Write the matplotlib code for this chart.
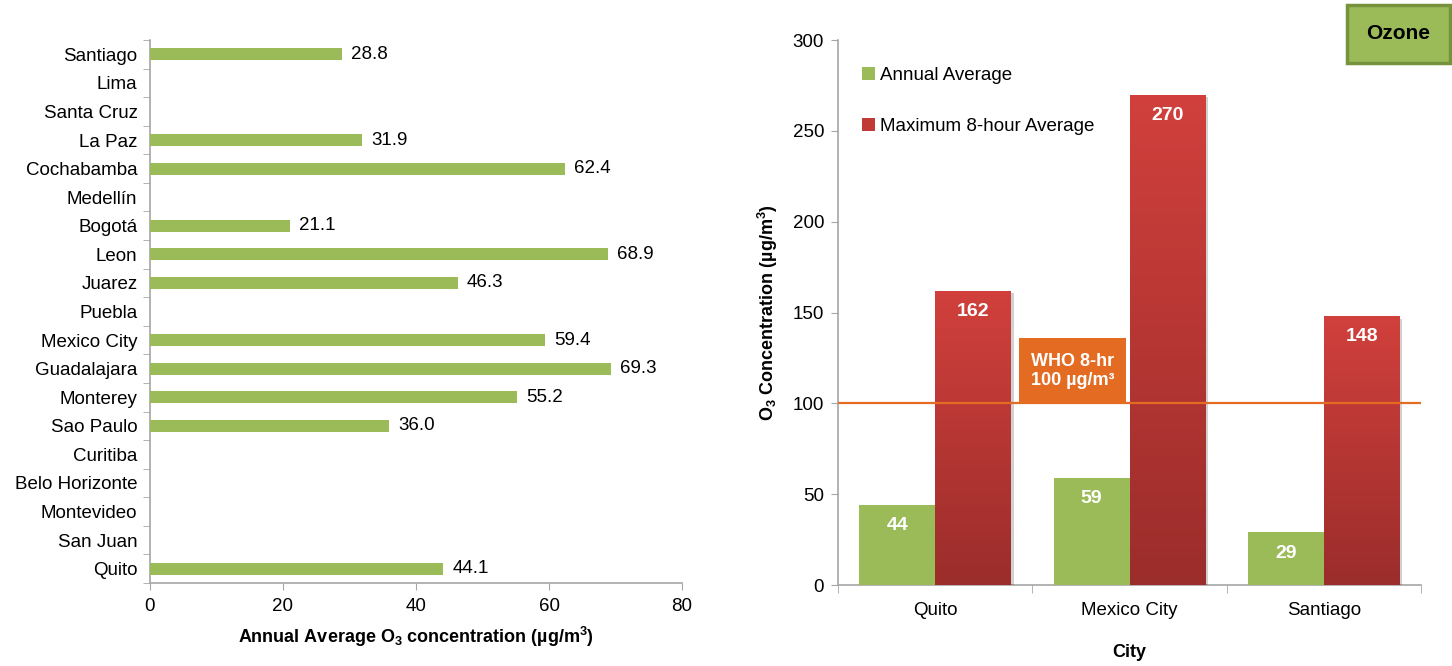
import numpy as np
import matplotlib
matplotlib.use('Agg')
import matplotlib.pyplot as plt
import matplotlib.patheffects as pe
from matplotlib.patches import Rectangle, Patch
from matplotlib.colors import LinearSegmentedColormap

plt.rcParams['font.family'] = ['Liberation Sans', 'DejaVu Sans']
plt.rcParams['mathtext.fontset'] = 'custom'
plt.rcParams['mathtext.rm'] = 'Liberation Sans'
plt.rcParams['mathtext.bf'] = 'Liberation Sans:bold'

# 左图: 各城市臭氧年均浓度 (从下往上)
cities = ['Quito', 'San Juan', 'Montevideo', 'Belo Horizonte', 'Curitiba', 'Sao Paulo',
          'Monterey', 'Guadalajara', 'Mexico City', 'Puebla', 'Juarez', 'Leon', 'Bogotá',
          'Medellín', 'Cochabamba', 'La Paz', 'Santa Cruz', 'Lima', 'Santiago']
annual_o3 = [44.1, np.nan, np.nan, np.nan, np.nan, 36.0,
             55.2, 69.3, 59.4, np.nan, 46.3, 68.9, 21.1,
             np.nan, 62.4, 31.9, np.nan, np.nan, 28.8]

# 右图: 年均值与最大8小时均值
cities2 = ['Quito', 'Mexico City', 'Santiago']
annual_avg = [44, 59, 29]
max_8hr = [162, 270, 148]
who_limit = 100

green = '#9bbb59'
grey = '#a6a6a6'
red_cmap = LinearSegmentedColormap.from_list('red_grad', ['#9b2d2b', '#d1403c'])
shadow = [pe.SimplePatchShadow(offset=(2, -2), shadow_rgbFace='#000000', alpha=0.18), pe.Normal()]
fs = 13.5

fig = plt.figure(figsize=(14.52, 6.66), dpi=100)

# ---- 左图 ----
ax1 = fig.add_axes([0.1033, 0.1246, 0.3664, 0.8153])
y = np.arange(len(cities))
vals = np.array(annual_o3)
has = ~np.isnan(vals)
ax1.barh(y[has], vals[has], height=0.42, color=green, zorder=3)
for yi, v in zip(y[has], vals[has]):
    ax1.annotate(f'{v:.1f}', xy=(v, yi), xytext=(6.5, 0), textcoords='offset points',
                 va='center', ha='left', fontsize=fs)
ax1.set_xlim(0, 80)
ax1.set_ylim(-0.5, len(cities) - 0.5)
ax1.set_xticks(np.arange(0, 81, 20))
ax1.set_yticks(y)
ax1.set_yticklabels(cities)
ax1.set_yticks(np.arange(-0.5, len(cities), 1), minor=True)
ax1.tick_params(axis='y', which='major', length=0, pad=9, labelsize=fs)
ax1.tick_params(axis='y', which='minor', length=5, color=grey, direction='out')
ax1.tick_params(axis='x', length=5, color=grey, pad=6, labelsize=fs)
for s in ['top', 'right']:
    ax1.spines[s].set_visible(False)
for s in ['left', 'bottom']:
    ax1.spines[s].set_color(grey)
    ax1.spines[s].set_linewidth(1.2)
ax1.set_xlabel(r'Annual Average O$_\mathbf{3}$ concentration (µg/m$^\mathbf{3}$)',
               fontsize=13, fontweight='bold', labelpad=7)

# ---- 右图 ----
ax2 = fig.add_axes([0.5771, 0.1216, 0.4016, 0.8183])
x = np.arange(len(cities2))
w = 0.39
b1 = ax2.bar(x - w / 2, annual_avg, width=w, color=green, zorder=3)
b2 = ax2.bar(x + w / 2, max_8hr, width=w, color='#c23a36', zorder=3)
for bar in list(b1) + list(b2):
    bar.set_path_effects(shadow)
# 红色柱子上深下浅的渐变
grad = np.linspace(0, 1, 256).reshape(-1, 1)
for bar in b2:
    x0, h = bar.get_x(), bar.get_height()
    im = ax2.imshow(grad, extent=[x0, x0 + bar.get_width(), 0, h], origin='lower',
                    cmap=red_cmap, aspect='auto', zorder=3.5)
    im.set_clip_path(bar)
for bars, vs in [(b1, annual_avg), (b2, max_8hr)]:
    for bar, v in zip(bars, vs):
        ax2.annotate(f'{v:.0f}', xy=(bar.get_x() + bar.get_width() / 2, v), xytext=(0, -15),
                     textcoords='offset points', ha='center', va='center', color='white',
                     fontsize=14, fontweight='bold', zorder=6)

# WHO 8小时标准线及标签
ax2.axhline(who_limit, color='#e46c22', linewidth=1.6, zorder=4)
ax2.add_patch(Rectangle((0.432, who_limit), 0.55, 36, facecolor='#e46c22', edgecolor='none', zorder=5))
ax2.text(0.707, who_limit + 18, f'WHO 8-hr\n{who_limit} µg/m³', color='white', fontsize=13,
         fontweight='bold', ha='center', va='center', linespacing=1.15, zorder=6)

ax2.set_xlim(-0.5, len(cities2) - 0.5)
ax2.set_ylim(0, 300)
ax2.set_yticks(np.arange(0, 301, 50))
ax2.set_xticks(x)
ax2.set_xticklabels(cities2)
ax2.set_xticks(np.arange(-0.5, len(cities2), 1), minor=True)
ax2.tick_params(axis='x', which='major', length=0, pad=12, labelsize=fs)
ax2.tick_params(axis='x', which='minor', length=6, color=grey)
ax2.tick_params(axis='y', length=5, color=grey, pad=5, labelsize=fs)
for s in ['top', 'right']:
    ax2.spines[s].set_visible(False)
for s in ['left', 'bottom']:
    ax2.spines[s].set_color(grey)
    ax2.spines[s].set_linewidth(1.2)
ax2.set_ylabel(r'O$_\mathbf{3}$ Concentration (µg/m$^\mathbf{3}$)', fontsize=13,
               fontweight='bold', labelpad=9)
ax2.set_xlabel('City', fontsize=13, fontweight='bold', labelpad=18)

handles = [Patch(facecolor=green), Patch(facecolor='#c23a36')]
ax2.legend(handles, ['Annual Average', 'Maximum 8-hour Average'], loc='upper left',
           bbox_to_anchor=(0.012, 0.982), frameon=False, fontsize=fs, handlelength=0.7,
           handleheight=0.7, handletextpad=0.25, labelspacing=1.8)

# 右上角 Ozone 标签
fig.patches.append(Rectangle((0.9277, 0.905), 0.0709, 0.0875, transform=fig.transFigure,
                             facecolor=green, edgecolor='#76923c', linewidth=2.5))
fig.text(0.9631, 0.949, 'Ozone', fontsize=15, fontweight='bold', ha='center', va='center')

fig.savefig('out.png', dpi=100)
